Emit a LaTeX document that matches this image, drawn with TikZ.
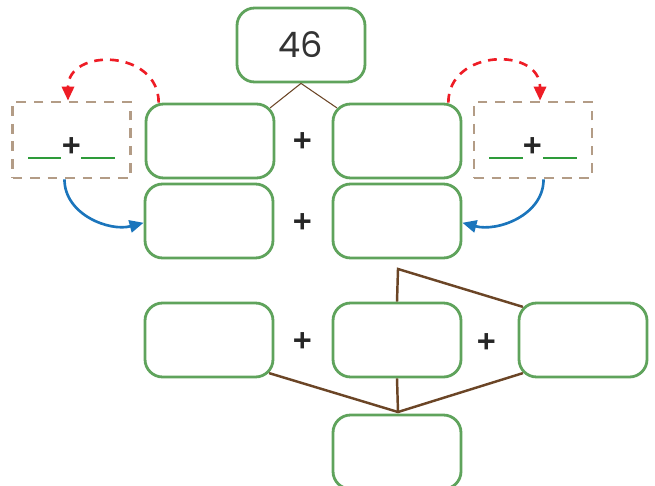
\documentclass[tikz,border=0pt]{standalone}
\usepackage{fontspec}
\setmainfont{Poppins}
\newfontfamily\plusfont{TeX Gyre Heros}
\usetikzlibrary{arrows.meta}
\definecolor{boxgreen}{HTML}{5FA35C}
\definecolor{blankgreen}{HTML}{2E9B3A}
\definecolor{dashtan}{HTML}{B39C86}
\definecolor{branch}{HTML}{6B4526}
\definecolor{swapred}{HTML}{EE1C25}
\definecolor{moveblue}{HTML}{1B75BC}
\tikzset{
  numbox/.style={draw=boxgreen,line width=1.6pt,rounded corners=10pt,minimum width=2.56cm,minimum height=1.48cm,inner sep=0pt},
  guessbox/.style={draw=dashtan,line width=1.6pt,dash pattern=on 5.5pt off 4.5pt,minimum width=2.36cm,minimum height=1.52cm,inner sep=0pt},
  plussign/.style={font=\plusfont\fontsize{20}{20}\selectfont\bfseries,text=black!85},
  blank/.style={draw=blankgreen,line width=0.9pt},
  split/.style={draw=branch,line width=0.6pt},
  group/.style={draw=branch,line width=1.4pt},
  swap/.style={draw=swapred,line width=1.5pt,dash pattern=on 5pt off 4pt,-{Triangle[length=8pt,width=7pt]}},
  move/.style={draw=moveblue,line width=1.5pt,-{Triangle[length=8pt,width=7pt]}}
}
\begin{document}
\begin{tikzpicture}[x=0.02cm,y=-0.02cm]
  \useasboundingbox (0,0) rectangle (655,486);
  % boxes
  \node[numbox,font=\fontsize{20}{20}\selectfont,text=black!80] (top) at (301,45) {46};
  \node[numbox] (r1l) at (210,141) {};
  \node[numbox] (r1r) at (397,141) {};
  \node[numbox] (r2l) at (209,221) {};
  \node[numbox] (r2r) at (397,221) {};
  \node[numbox] (r3l) at (209,340) {};
  \node[numbox] (r3m) at (397,340) {};
  \node[numbox] (r3r) at (583,340) {};
  \node[numbox] (bot) at (397,452) {};
  \foreach \n/\x/\y in {p1/303/141,p2/303/222,p3/303/341,p4/487/342}
    \node[plussign] (\n) at (\x,\y) {+};
  % guess boxes
  \node[guessbox] (gl) at (71.5,140) {};
  \node[guessbox] (gr) at (533,140) {};
  \node[plussign] (gpl) at (72,146) {+};
  \node[plussign] (gpr) at (533,146) {+};
  \draw[blank] (28,158) -- (61,158) (81,158) -- (115,158);
  \draw[blank] (489,158) -- (523,158) (543,158) -- (577,158);
  % split of 46
  \draw[split] ([xshift=-3pt,yshift=-3pt]r1l.north east) -- (top.south) -- ([xshift=3pt,yshift=-3pt]r1r.north west);
  % grouping lines
  \coordinate (up) at (398,269);
  \coordinate (down) at (398,412);
  \draw[group] (r3m.north) -- (up) -- ([xshift=3pt,yshift=-3pt]r3r.north west);
  \draw[group] ([xshift=-3pt,yshift=3pt]r3l.south east) -- (down) -- ([xshift=3pt,yshift=3pt]r3r.south west);
  \draw[group] (r3m.south) -- (down);
  % arrows
  \draw[swap] ([xshift=8pt]r1l.north west) to[out=90,in=90,looseness=1.5] ([xshift=-2pt]gl.north);
  \draw[swap] ([xshift=-8pt]r1r.north east) to[out=90,in=90,looseness=1.5] ([xshift=4pt]gr.north);
  \draw[move] ([xshift=-4pt]gl.south) to[out=-90,in=195] ([yshift=-1pt]r2l.west);
  \draw[move] ([xshift=6pt]gr.south) to[out=-90,in=-15] ([yshift=-1pt]r2r.east);
\end{tikzpicture}
\end{document}
